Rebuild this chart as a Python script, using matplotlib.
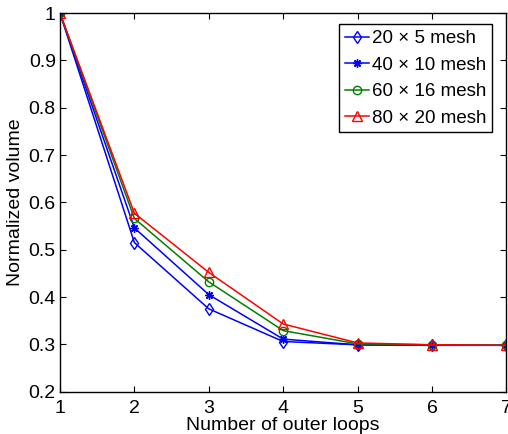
import matplotlib
matplotlib.use('Agg')
import matplotlib.pyplot as plt

plt.rcParams['font.family'] = ['Liberation Sans', 'DejaVu Sans']

loops = [1, 2, 3, 4, 5, 6, 7]
mesh_20x5 = [1.0, 0.515, 0.375, 0.306, 0.299, 0.298, 0.298]
mesh_40x10 = [1.0, 0.546, 0.405, 0.311, 0.299, 0.298, 0.298]
mesh_60x16 = [1.0, 0.566, 0.432, 0.329, 0.301, 0.299, 0.298]
mesh_80x20 = [1.0, 0.577, 0.452, 0.343, 0.303, 0.299, 0.298]
etiquetas = ['20 \u00d7 5 mesh', '40 \u00d7 10 mesh', '60 \u00d7 16 mesh', '80 \u00d7 20 mesh']

fig = plt.figure(figsize=(5.08, 4.34), dpi=100)
ax = fig.add_axes([0.118, 0.0975, 0.879, 0.8725])

ax.plot(loops, mesh_20x5, '-d', color='blue', mfc='none', ms=6, lw=1.1, label=etiquetas[0])
ax.plot(loops, mesh_40x10, '-', marker=(8, 2, 0), color='blue', ms=6, lw=1.1, label=etiquetas[1])
ax.plot(loops, mesh_60x16, '-o', color='green', mfc='none', ms=6, lw=1.1, label=etiquetas[2])
ax.plot(loops, mesh_80x20, '-^', color='red', mfc='none', ms=7, lw=1.1, label=etiquetas[3])

ax.set_xlim(1, 7)
ax.set_ylim(0.2, 1)
ax.set_xticks(loops)
ax.set_yticks([0.2, 0.3, 0.4, 0.5, 0.6, 0.7, 0.8, 0.9, 1.0])
ax.set_yticklabels(['0.2', '0.3', '0.4', '0.5', '0.6', '0.7', '0.8', '0.9', '1'])
ax.tick_params(direction='in', top=True, right=True, labelsize=14, length=4)
ax.tick_params(axis='x', pad=6)
ax.tick_params(axis='y', pad=3)
ax.set_xlabel('Number of outer loops', fontsize=14, labelpad=0)
ax.set_ylabel('Normalized volume', fontsize=14, labelpad=3)
for s in ax.spines.values():
    s.set_linewidth(1.0)

leg = ax.legend(loc='upper right', bbox_to_anchor=(0.98, 0.985), fontsize=13.5,
                fancybox=False, edgecolor='black', framealpha=1,
                handlelength=1.3, handletextpad=0.15, borderpad=0.3, labelspacing=0.5,
                borderaxespad=0.3)
leg.get_frame().set_linewidth(1.0)

fig.savefig('out.png', dpi=100)
